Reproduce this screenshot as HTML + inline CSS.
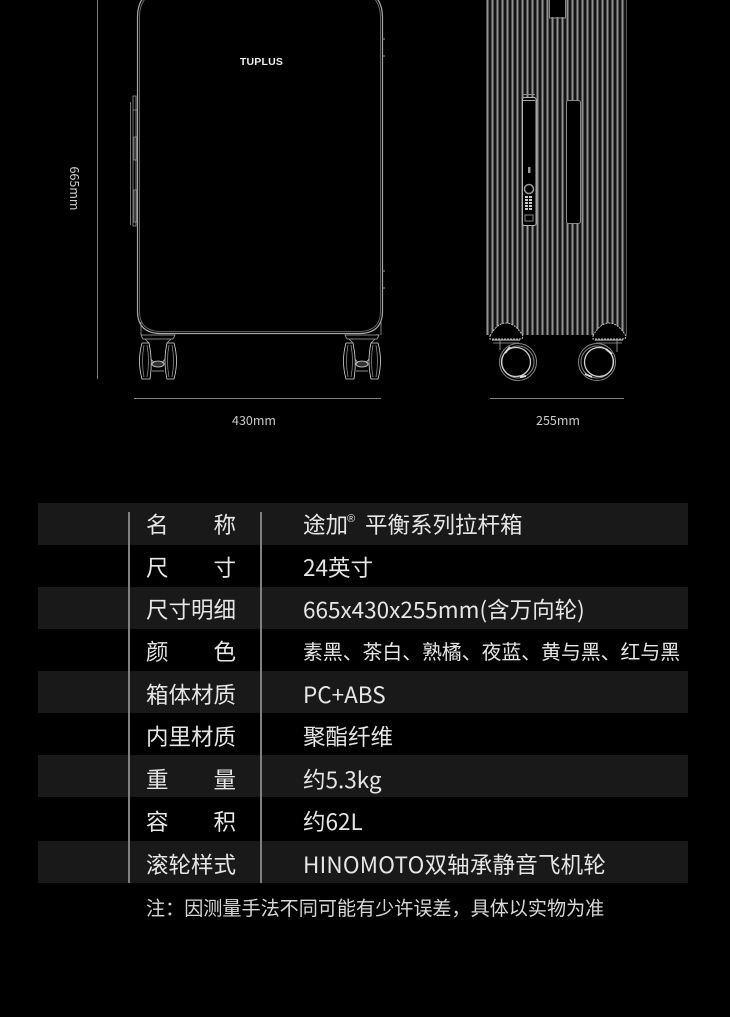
<!DOCTYPE html>
<html><head><meta charset="utf-8">
<style>
html,body{margin:0;padding:0;background:#000}
#p{position:relative;width:730px;height:1017px;background:#000;overflow:hidden;font-family:"Noto Sans CJK SC",sans-serif;color:#e6e6e6}
svg{position:absolute;left:0;top:0}
.b{position:absolute;left:38px;width:650px;height:42px;background:#191919}
.v{position:absolute;top:512px;width:1.5px;height:371px;background:#808080}
.t{position:absolute;white-space:nowrap;line-height:30px;font-size:22.5px;font-family:"Noto Sans CJK SC",sans-serif}
.l{left:146px;width:90px;display:flex;justify-content:space-between}
.c{left:303px}
</style></head><body><div id="p">
<svg width="730" height="440" viewBox="0 0 730 440" fill="none">
<defs>
<pattern id="st" x="486" y="0" width="5" height="10" patternUnits="userSpaceOnUse">
<rect x="0" width="5" height="10" fill="#141414"/>
<rect x="0.5" width="2" height="10" fill="#929292"/>
</pattern>
<g id="w" stroke="#d8d8d8" stroke-width=".8">
<path d="M3 8H10Q14 26 11 44H3Q-2 26 3 8Z"/>
<path d="M5 10Q2 26 5 42M8 10Q11 26 8 42" stroke="#888"/>
<path d="M28 8H35Q40 26 35 44H28Q24 26 28 8Z"/>
<path d="M30 10Q27 26 30 42M33 10Q36 26 33 42" stroke="#888"/>
<path d="M2 0H36L34 4H4ZM6 4L10 8M32 4L28 8" stroke="#aaa"/>
<ellipse cx="19" cy="29" rx="6" ry="3" fill="#333"/>
<path d="M12 24L15 28M26 24L23 28M13 36H25" stroke="#bbb"/>
</g>
<g id="wh">
<path d="M-33 -40 Q-26 -53 -17 -53 Q-8 -53 0 -40 L-1 -37 H-33Z" fill="#000" stroke="#bbb" stroke-width="1" stroke-dasharray="2 1"/>
<path d="M-31 -36H-3" stroke="#aaa" stroke-width="1.200"/>
<path d="M-30 -33H-4" stroke="#777" stroke-width="1"/>
</g>
</defs>
<path d="M97.500 0V379M134 398.500H381M490 398.500H624" stroke="#808080" stroke-width="1"/>
<path d="M137.500 17Q137.500 -10 166 -12H354Q382 -10 382.500 17V312Q382 333 360 333.500H160Q138 333 137.500 312Z" stroke="#a8a8a8" stroke-width="1.200"/>
<path d="M139.500 17Q139.500 -8 166 -10H354Q380 -8 380.500 17V312Q380 331 360 331.500H160Q140 331 139.500 312Z" stroke="#777" stroke-width=".8"/>
<path d="M382 39H385M382 56H385M382 271H385M382 288H385" stroke="#999"/>
<path d="M133 96H136V226H133ZM130.500 102V225M133 110H137M134 137H137V160H134ZM134 190H137V222H134Z" stroke="#999" stroke-width=".8"/>
<use href="#w" x="139" y="335"/>
<use href="#w" x="343" y="335"/>
<path d="M141 322V335M377 334V335M381 322V335" stroke="#999" stroke-width=".8"/>
<rect x="486" y="0" width="141" height="335" fill="url(#st)"/>
<rect x="549" y="0" width="17" height="17" fill="#000"/>
<path d="M549.500 0V18H565.500V0" stroke="#888"/>
<rect x="522.500" y="97.500" width="13.500" height="128" rx="2" fill="#000" stroke="#b5b5b5"/>
<path d="M523 94.500H535" stroke="#888"/>
<path d="M523 100.500H535" stroke="#aaa"/>
<rect x="566.500" y="100.500" width="14" height="123" rx="2" fill="#000" stroke="#888"/>
<rect x="528" y="167" width="2.500" height="6" fill="#999"/>
<circle cx="529" cy="189" r="4.500" stroke="#999" stroke-width="1.500"/>
<path d="M525 197h8M525 200h8M525 203h8M525 206h8M525 209h8" stroke="#ccc" stroke-width="2" stroke-dasharray="3 1"/>
<rect x="525" y="215" width="8" height="6" stroke="#888"/>
<g><circle cx="518" cy="362" r="18.500" stroke="#888" stroke-width="1"/><circle cx="518" cy="362" r="16" stroke="#888" stroke-width="1"/><circle cx="516" cy="362" r="14.500" stroke="#d0d0d0" stroke-width="1.300"/>
<path d="M505 353L510 347M520 377L526 376" stroke="#ddd" stroke-width="2"/></g>
<g><circle cx="597" cy="362" r="18.500" stroke="#888" stroke-width="1"/><circle cx="597" cy="362" r="16" stroke="#888" stroke-width="1"/><circle cx="599" cy="362" r="14.500" stroke="#d0d0d0" stroke-width="1.300"/>
<path d="M606 349L612 354M585 374L592 377" stroke="#ddd" stroke-width="2"/></g>
<use href="#wh" x="523" y="376"/>
<use href="#wh" x="626" y="376"/>
<path d="M500 340V350M617 340V352" stroke="#888"/>
<text x="261.500" y="65" text-anchor="middle" font-family="Liberation Sans" font-weight="700" font-size="10.500" letter-spacing=".2" fill="#f0f0f0">TUPLUS</text>
<text x="254" y="425" text-anchor="middle" font-family="Noto Sans CJK SC" font-size="12.500" fill="#ccc">430mm</text>
<text x="558" y="425" text-anchor="middle" font-family="Noto Sans CJK SC" font-size="12.500" fill="#ccc">255mm</text>
<text transform="translate(70 188.500) rotate(90)" text-anchor="middle" font-family="Noto Sans CJK SC" font-size="12.500" fill="#ccc">665mm</text>
</svg>

<div class="b" style="top:503px"></div>
<div class="b" style="top:587px"></div>
<div class="b" style="top:671px"></div>
<div class="b" style="top:755px"></div>
<div class="b" style="top:841px"></div>
<div class="v" style="left:128px"></div>
<div class="v" style="left:260px"></div>

<div class="t l" style="top:509px"><span>名</span><span>称</span></div>
<div class="t l" style="top:552px"><span>尺</span><span>寸</span></div>
<div class="t l" style="top:594px"><span>尺</span><span>寸</span><span>明</span><span>细</span></div>
<div class="t l" style="top:636px"><span>颜</span><span>色</span></div>
<div class="t l" style="top:679px"><span>箱</span><span>体</span><span>材</span><span>质</span></div>
<div class="t l" style="top:721px"><span>内</span><span>里</span><span>材</span><span>质</span></div>
<div class="t l" style="top:764px"><span>重</span><span>量</span></div>
<div class="t l" style="top:806px"><span>容</span><span>积</span></div>
<div class="t l" style="top:849px"><span>滚</span><span>轮</span><span>样</span><span>式</span></div>

<div class="t c" style="top:509px">途加<span style="position:absolute;left:44px;top:-5px;font:11px 'Liberation Sans',sans-serif;line-height:30px">®</span><span style="position:absolute;left:62px;top:0">平衡系列拉杆箱</span></div>
<div class="t c" style="top:552px">24英寸</div>
<div class="t c" style="top:594px">665x430x255mm(含万向轮)</div>
<div class="t c" style="top:636px;font-size:19.850px">素黑、茶白、熟橘、夜蓝、黄与黑、红与黑</div>
<div class="t c" style="top:679px">PC+ABS</div>
<div class="t c" style="top:721px">聚酯纤维</div>
<div class="t c" style="top:764px">约5.3kg</div>
<div class="t c" style="top:806px">约62L</div>
<div class="t c" style="top:849px;letter-spacing:.2px">HINOMOTO双轴承静音飞机轮</div>
<div class="t" style="left:146px;top:892px;font-size:19.100px;color:#d8d8d8">注&#xFF1A;因测量手法不同可能有少许误差&#xFF0C;具体以实物为准</div>
</div></body></html>
